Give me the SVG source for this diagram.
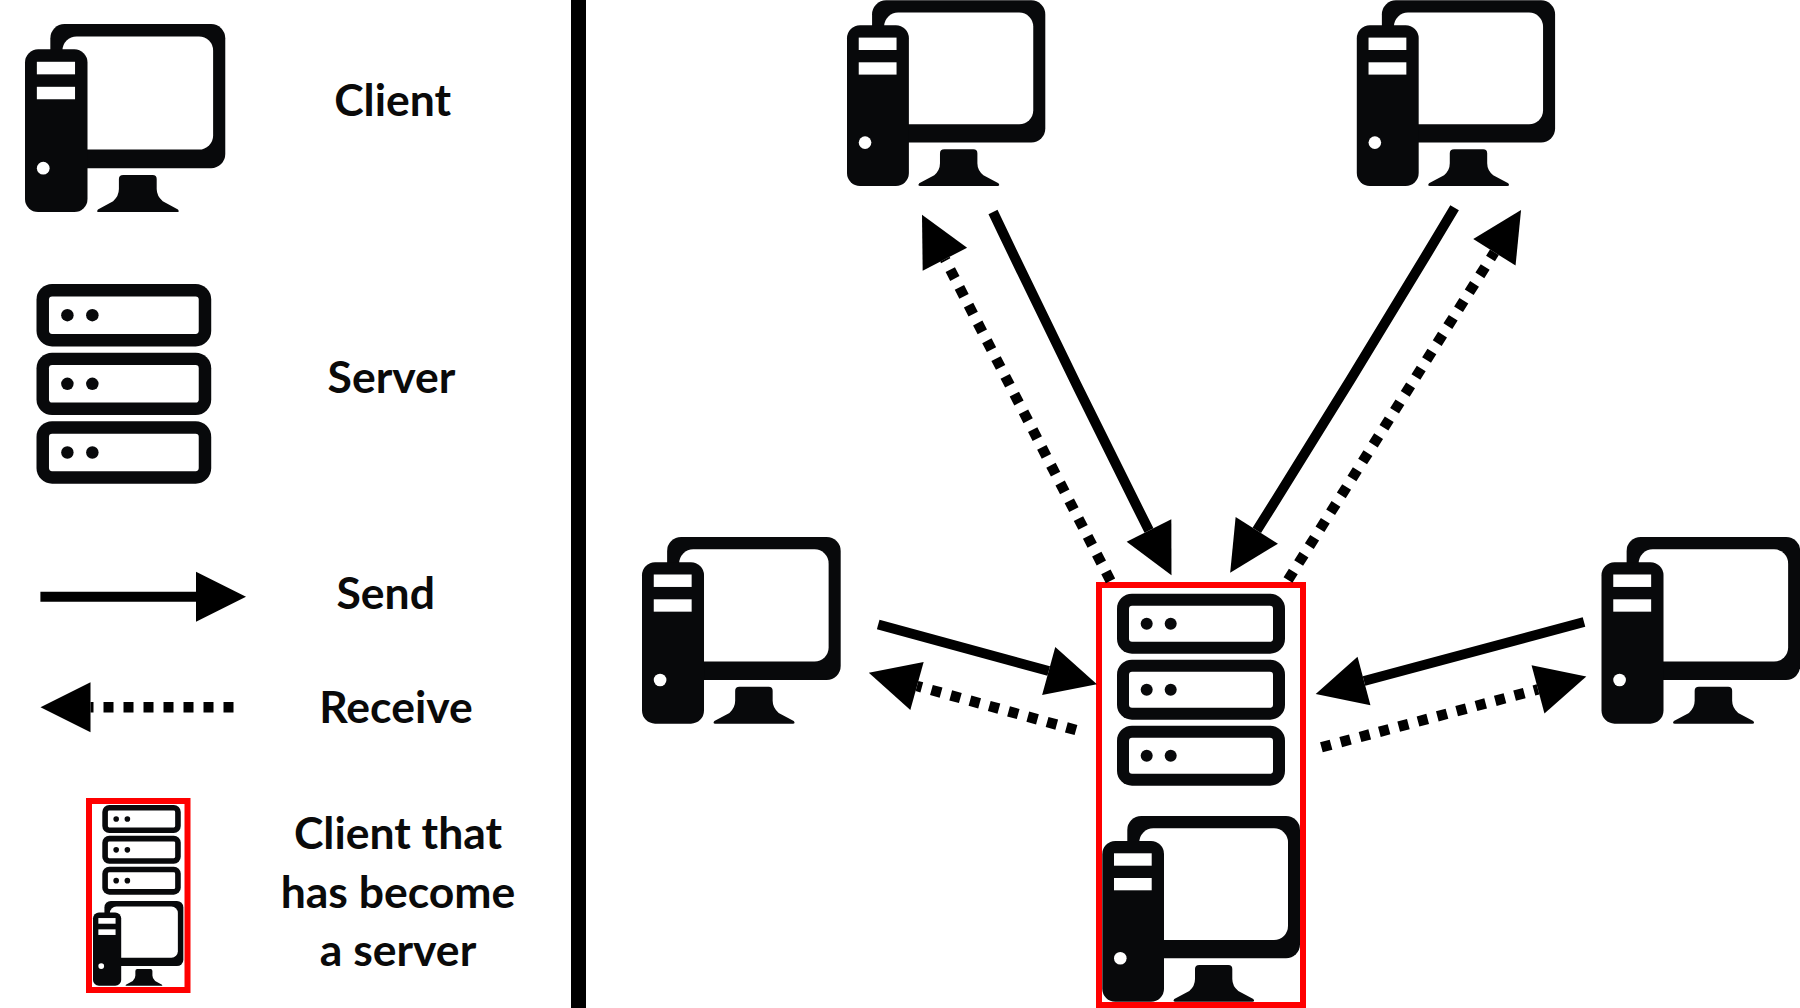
<svg xmlns="http://www.w3.org/2000/svg" width="1800" height="1008" viewBox="0 0 1800 1008">
<style>
.k{fill:#08090b}
.w{fill:#fff}
.s{fill:none;stroke:#000;stroke-width:10}
.d{fill:none;stroke:#000;stroke-width:10.5;stroke-dasharray:10 10}
.r{fill:none;stroke:#f00;stroke-width:6}
text{font-family:Lato,"Liberation Sans",sans-serif;font-weight:700;font-size:44.5px;fill:#0a0a0a;text-anchor:middle}
</style>
<defs>
<marker id="h" markerUnits="userSpaceOnUse" markerWidth="50" markerHeight="50" refX="0" refY="25" orient="auto" overflow="visible"><polygon points="0,0 50,25 0,50" fill="#000"/></marker>
<g id="pc">
<rect class="k" x="25" y="0" width="172.7" height="142.3" rx="14"/>
<rect class="w" x="37" y="12.3" width="148.7" height="111.7" rx="14"/>
<rect class="k" x="0" y="25" width="61.7" height="160.7" rx="13"/>
<rect class="w" x="11.7" y="37.3" width="37.7" height="12.4"/>
<rect class="w" x="11.7" y="62" width="37.7" height="12.3"/>
<circle class="w" cx="18" cy="142.3" r="6.3"/>
<path class="k" d="M97 149H126Q130 149 130 153V163Q130 170 136 175L151 183Q153 185.7 150 185.7H73Q70 185.7 72 183L87 175Q92.7 170 92.7 163V153Q92.7 149 97 149Z"/>
</g>
<g id="row">
<rect class="k" width="168" height="60" rx="15"/>
<rect class="w" x="12" y="12" width="144" height="36" rx="3"/>
<circle class="k" cx="29.7" cy="30" r="6"/>
<circle class="k" cx="53.7" cy="30" r="6"/>
</g>
<g id="srv">
<use href="#row"/>
<use href="#row" y="66"/>
<use href="#row" y="132"/>
</g>
</defs>
<rect width="1800" height="1008" fill="#fff"/>
<rect id="divider" x="571" y="0" width="15" height="1008" fill="#000"/>
<g id="legend-client"><use href="#pc" transform="translate(25 24) scale(1.013)"/><text x="392.6" y="116">Client</text></g>
<g id="legend-server"><use href="#srv" transform="translate(36.5 284) scale(1.04)"/><text x="391.5" y="392.7">Server</text></g>
<g id="legend-send"><text x="385.7" y="609">Send</text></g>
<g id="legend-receive"><text x="396" y="722.7">Receive</text></g>
<g id="legend-hybrid">
<use href="#srv" transform="translate(102.3 805) scale(.467)"/>
<use href="#pc" transform="translate(93 901) scale(.457)"/>
<rect class="r" x="89" y="801" width="98.5" height="189"/>
<text x="398" y="849.3">Client that</text>
<text x="398" y="908.3">has become</text>
<text x="398" y="966">a server</text>
</g>
<g id="client-top-left"><use href="#pc" transform="translate(847 0.3) scale(1.003 1)"/></g>
<g id="client-top-right"><use href="#pc" transform="translate(1356.8 0.3) scale(1.003 1)"/></g>
<g id="client-left"><use href="#pc" transform="translate(642 537) scale(1.005)"/></g>
<g id="client-right"><use href="#pc" transform="translate(1601.5 537) scale(1.005)"/></g>
<g id="hybrid">
<use href="#srv" transform="translate(1117 593.7)"/>
<use href="#pc" transform="translate(1102.3 816)"/>
<rect class="r" x="1099" y="585" width="204" height="420"/>
</g>
<g id="connectors">
<path class="s" marker-end="url(#h)" d="M40.4 596.7H196"/>
<path class="d" marker-end="url(#h)" d="M233.5 707.3H90.5"/>
<path class="s" marker-end="url(#h)" d="M993 212Q1069 371.5 1149 530.5"/>
<path class="s" marker-end="url(#h)" d="M1454.6 207.8Q1357.7 370 1256.8 530.4"/>
<path class="d" marker-end="url(#h)" d="M1110.5 580.8L944.9 259.2"/>
<path class="d" marker-end="url(#h)" d="M1288 580L1494.4 252.3"/>
<path class="s" marker-end="url(#h)" d="M878.2 624.5L1048.7 671"/>
<path class="d" marker-end="url(#h)" d="M1076 730L917 686"/>
<path class="s" marker-end="url(#h)" d="M1584 622L1364 681"/>
<path class="d" marker-end="url(#h)" d="M1321.4 747.3L1538 689.4"/>
</g>
</svg>
